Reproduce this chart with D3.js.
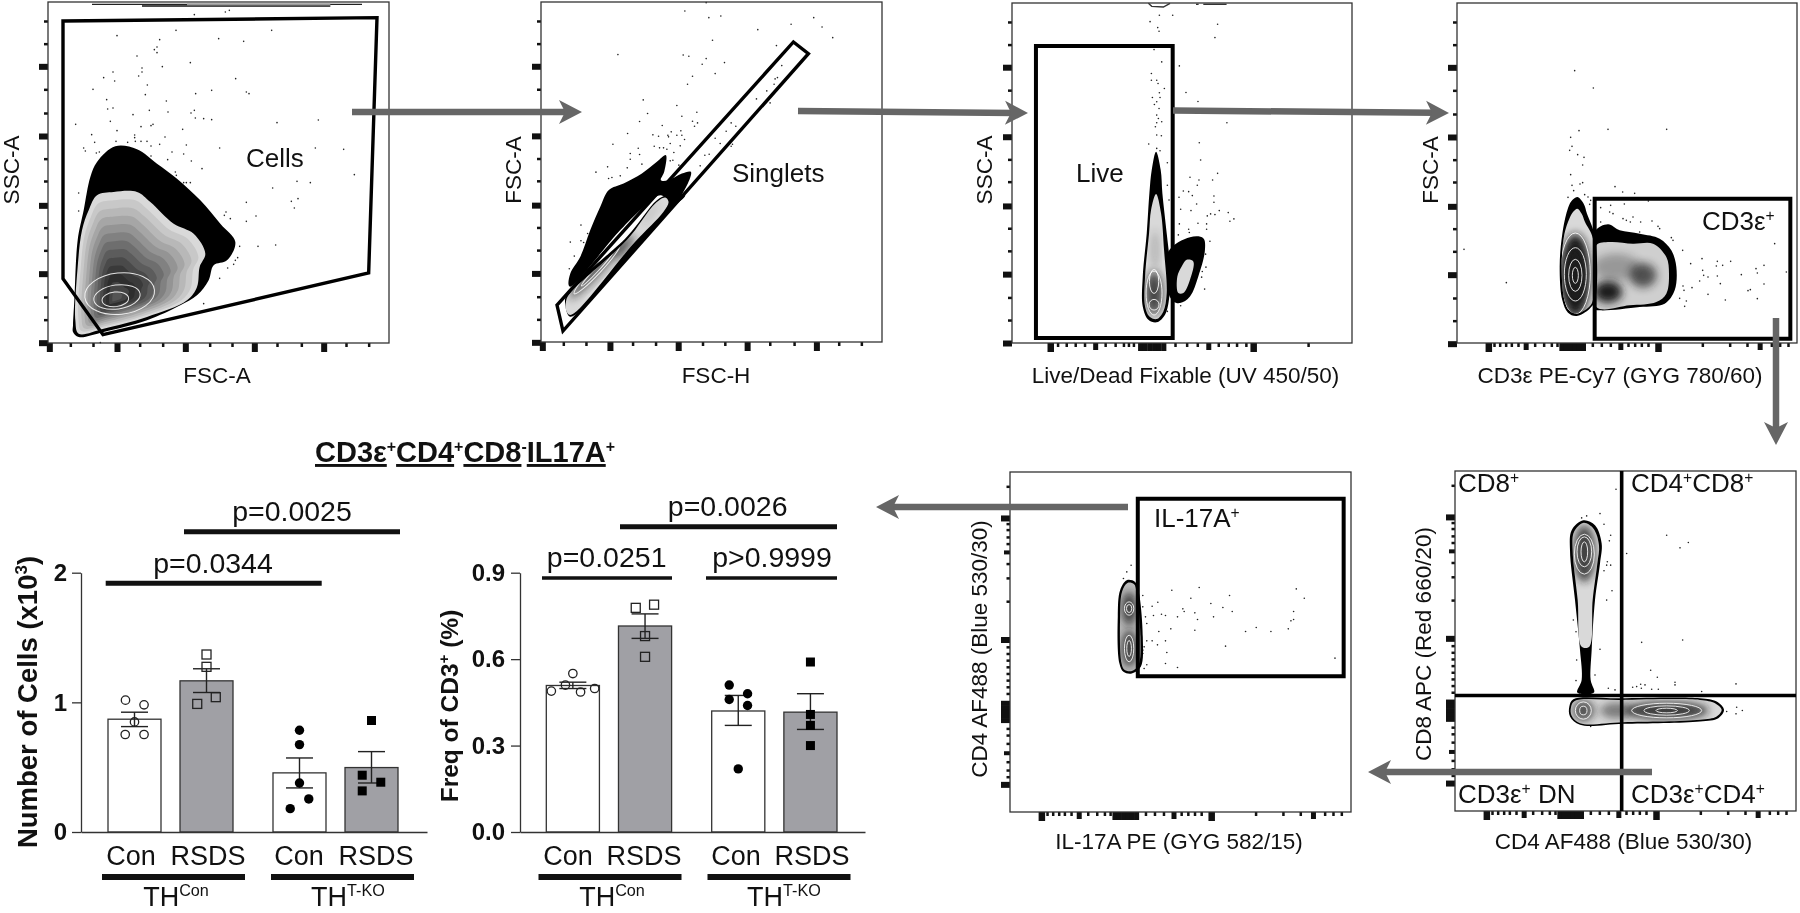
<!DOCTYPE html>
<html>
<head>
<meta charset="utf-8">
<script src="https://cdn.jsdelivr.net/npm/d3@7"></script>
<style>
body { margin: 0; background: #fff; }
svg { display: block; filter: blur(0.45px); }
text { font-family: "Liberation Sans", Arial, sans-serif; fill: #111; }
</style>
</head>
<body>
<div id="chart"></div>
<script>
// bar charts
const groups = ["THCon", "THT-KO"];
const conditions = ["Con", "RSDS"];
const barKeys = ["THCon|Con", "THCon|RSDS", "THT-KO|Con", "THT-KO|RSDS"];

const cellsTicks = [0, 1, 2];
const cellsMeans = [0.87, 1.166, 0.456, 0.497];
const cellsLow = [0.813, 1.076, 0.34, 0.378];
const cellsHigh = [0.924, 1.259, 0.571, 0.62];
const cellsPoints = [
  [1.017, 0.981, 0.849, 0.752, 0.752],
  [1.369, 1.274, 1.04, 0.988],
  [0.785, 0.674, 0.378, 0.255, 0.18],
  [0.86, 0.438, 0.384, 0.317]
];
const cellsJitter = [
  [-0.34, 0.36, 0, -0.35, 0.36],
  [0, 0, 0.35, -0.35],
  [0, 0, 0, 0.35, -0.35],
  [0, -0.35, 0.35, -0.35]
];

const freqTicks = [0, 0.3, 0.6, 0.9];
const freqMeans = [0.5085, 0.715, 0.42, 0.416];
const freqLow = [0.498, 0.672, 0.37, 0.356];
const freqHigh = [0.52, 0.757, 0.474, 0.48];
const freqPoints = [
  [0.55, 0.51, 0.489, 0.486, 0.498],
  [0.778, 0.789, 0.68, 0.608],
  [0.51, 0.48, 0.46, 0.439, 0.219],
  [0.59, 0.408, 0.37, 0.3]
];
const freqJitter = [
  [0, -0.28, -0.81, 0.29, 0.82],
  [-0.35, 0.34, 0, 0],
  [-0.34, 0.35, -0.34, 0.35, 0],
  [0, 0, 0, 0]
];

// cytometry tick lists, in channels from the plot's own origin
const linMajor = [4, 207, 412, 619, 827];
const linMinor = [67, 135, 275, 344, 485, 552, 687, 760, 894, 962];
const linYMajor = [193, 402, 610, 815, 1022];
const linYMinor = [57, 125, 262, 333, 470, 537, 677, 745, 885, 953];
const biexMajor = [94, 603];
const biexMid = [206, 490, 908];
const biexCluster = [313, 326, 339, 352, 365, 378];
const biexMinor = [111, 128, 146, 163, 183, 233, 260, 283, 300, 406, 433, 460, 513, 533, 553, 573, 736, 818, 870, 943, 968, 993];
const liveMajor = [115, 725];
const liveMid = [250, 590];
const liveCluster = [385, 399, 413, 427, 441, 455];
const liveMinor = [137, 163, 190, 218, 280, 310, 335, 350, 365, 490, 525, 557, 620, 650, 675, 703, 890];
const biexYMajor = [138, 503, 938];
const biexYMid = [240, 843];
const biexYCluster = [693, 706, 719, 732, 745];
const biexYMinor = [43, 155, 173, 195, 215, 275, 318, 388, 525, 545, 565, 585, 605, 625, 645, 665, 770, 790, 815, 870, 895, 915];

// cytometry events
const cellsDots = [[582,43],[675,35],[687,30],[527,90],[814,90],[350,106],[655,115],[730,123],[478,118],[470,140],[462,148],[470,157],[410,167],[570,187],[486,199],[425,203],[425,215],[338,215],[415,227],[310,232],[343,242],[706,235],[441,254],[278,267],[634,270],[586,280],[738,275],[746,280],[435,283],[319,298],[498,302],[338,323],[322,326],[447,330],[503,335],[582,330],[572,338],[398,343],[585,353],[610,355],[634,358],[330,363],[226,372],[458,372],[452,376],[422,379],[830,367],[954,359],[547,387],[350,391],[274,403],[403,404],[403,412],[494,410],[347,423],[283,426],[382,426],[405,423],[422,423],[440,423],[478,432],[558,434],[452,437],[945,443],[1030,447],[658,443],[250,443],[255,452],[297,455],[288,458],[515,455],[550,461],[452,467],[573,482],[502,478],[605,505],[1062,523],[525,515],[528,525],[890,543],[930,547],[550,547],[558,547],[570,547],[817,563],[235,578],[893,595],[873,603],[738,606],[882,623],[235,632],[677,635],[672,645],[690,655],[767,647],[738,663],[718,738],[773,738],[826,734],[712,772],[705,780],[700,792],[682,803],[658,834],[610,910],[300,1027]];
const singletDots = [[618,7],[554,32],[626,52],[662,47],[941,52],[966,80],[873,72],[773,88],[998,112],[637,120],[829,136],[353,163],[549,164],[566,168],[618,175],[606,192],[673,187],[845,196],[645,220],[577,228],[832,232],[825,236],[562,252],[822,252],[800,272],[769,296],[429,299],[810,308],[530,316],[590,336],[442,340],[545,348],[418,364],[577,363],[592,368],[583,378],[693,368],[707,378],[486,376],[678,393],[382,400],[458,404],[475,408],[503,405],[505,410],[513,395],[542,392],[530,405],[545,405],[553,418],[645,414],[338,432],[462,438],[478,443],[490,443],[500,447],[540,437],[510,430],[660,430],[697,432],[693,438],[414,444],[390,460],[418,463],[521,457],[614,465],[627,462],[390,477],[510,482],[518,480],[381,503],[425,492],[600,497],[536,495],[322,500],[287,516],[360,527],[325,535],[335,532],[242,675],[262,700],[210,726],[242,722],[250,727],[222,768],[207,806]];
const liveDots = [[598,45],[638,45],[570,64],[773,72],[593,82],[597,93],[765,112],[582,148],[605,185],[658,197],[574,220],[574,240],[590,240],[594,250],[613,265],[598,278],[678,277],[577,292],[600,292],[590,305],[583,313],[714,304],[597,325],[590,345],[595,355],[605,365],[590,368],[586,380],[801,368],[590,405],[604,407],[566,432],[718,428],[590,445],[600,452],[722,480],[622,488],[773,520],[690,532],[717,540],[758,540],[622,556],[712,556],[670,573],[686,575],[697,587],[657,592],[762,588],[627,600],[762,607],[710,612],[662,628],[693,632],[778,632],[805,638],[752,642],[765,644],[742,648],[822,657],[810,664],[714,670],[740,672],[658,672],[686,688],[740,688],[688,698],[655,705],[750,724],[737,763],[738,802],[727,815],[725,832],[734,868],[622,935],[662,918]];
const cd3Dots = [[525,211],[581,263],[538,391],[625,387],[801,387],[513,411],[517,438],[510,450],[534,463],[553,471],[549,494],[513,523],[549,547],[541,551],[517,555],[522,571],[646,559],[669,575],[705,579],[505,591],[555,583],[565,590],[573,600],[570,612],[603,622],[633,615],[746,602],[674,611],[630,635],[640,640],[603,665],[670,655],[680,660],[692,665],[700,650],[757,662],[723,665],[775,678],[780,685],[720,695],[815,712],[820,720],[1125,730],[193,747],[849,750],[907,775],[953,783],[993,783],[873,790],[969,795],[950,797],[1093,795],[1069,805],[909,810],[1073,818],[1025,823],[912,825],[925,830],[953,827],[1160,815],[320,847],[900,842],[962,850],[1093,851],[850,857],[877,862],[1052,868],[1045,871],[925,882],[840,894],[860,902],[977,899],[1073,895],[855,918],[853,870]];
const cd4cd8Dots = [[648,117],[600,190],[560,197],[545,203],[612,222],[632,255],[800,255],[865,277],[840,293],[628,272],[680,310],[622,335],[612,362],[632,345],[620,345],[636,422],[620,450],[520,510],[528,545],[600,598],[725,577],[848,570],[530,630],[585,675],[752,661],[772,682],[528,692],[825,697],[1008,702],[735,705],[722,703],[710,710],[698,712],[724,715],[825,705],[625,715],[645,720],[755,718],[775,718],[905,725],[980,785],[1010,772],[1027,782],[1008,792],[572,830]];
const il17Dots = [[513,345],[500,365],[490,385],[635,420],[717,412],[1008,416],[808,436],[1032,444],[692,444],[548,436],[593,456],[752,460],[576,468],[668,476],[788,472],[672,484],[816,484],[704,488],[1000,484],[548,470],[604,492],[616,496],[580,496],[556,500],[652,500],[760,500],[712,508],[1000,508],[992,512],[560,520],[632,536],[704,540],[856,544],[888,532],[932,544],[984,536],[596,544],[616,572],[560,572],[576,572],[592,584],[552,590],[796,588],[620,607],[1124,624],[616,640],[652,652],[560,644],[552,655],[548,600],[548,610]];

// density contours
const cellsOuter = [[218,975],[222,900],[232,720],[250,630],[270,530],[290,485],[345,438],[410,447],[470,490],[530,535],[600,600],[660,670],[705,725],[680,780],[640,795],[625,840],[590,885],[540,915],[440,960],[310,995],[235,1010],[218,995]];
const cellsInner = [[225,960],[232,800],[245,690],[265,630],[290,585],[340,575],[410,575],[450,605],[520,670],[580,700],[615,760],[598,800],[590,860],[560,900],[440,950],[310,985],[235,1000]];
const cellsPeak = [345, 895];
const cellsShellGreys = ["#c8c8c8", "#b8b8b8", "#a6a6a6", "#949494", "#818181", "#6e6e6e", "#5c5c5c", "#4a4a4a", "#3a3a3a", "#2e2e2e", "#444444", "#555555"];
const cellsRings = [[358,880,105,62,-6],[350,890,70,36,-8],[345,897,40,22,-6]];

const singletOuter = [[205,855],[210,820],[240,770],[270,690],[300,620],[325,570],[370,550],[425,520],[470,485],[497,465],[492,515],[482,540],[505,540],[545,520],[572,515],[558,560],[520,610],[480,585],[420,630],[360,690],[210,860]];
const singletEdge = [[195,915],[200,880],[380,710],[470,600],[500,585],[555,585],[515,625],[400,750],[210,950]];
const singletInner = [[197,905],[205,885],[380,720],[465,610],[495,592],[505,605],[490,635],[400,730],[210,945],[197,930]];
const singletShades = [[370,740,45,13,-48,0.75],[285,812,115,16,-47,0.7],[450,640,40,10,-52,0.12]];
const singletRings = [[290,808,100,13,-47],[290,808,68,6,-47]];

const liveOuter = [[588,455],[602,510],[607,580],[620,700],[630,800],[628,890],[615,945],[590,968],[565,960],[548,920],[548,830],[560,700],[568,580],[575,510]];
const liveInner = [[588,582],[603,640],[612,750],[620,880],[610,935],[590,958],[568,950],[555,920],[555,830],[567,700],[573,630]];
const liveShades = [[582,880,26,65,0,0.8],[585,750,10,60,0,0.25]];
const liveRings = [[582,845,14,36,0],[582,915,15,16,0],[582,880,24,66,0]];
const deadOuter = [[625,755],[690,712],[730,715],[735,750],[715,830],[690,890],[660,910],[640,905],[622,870]];
const deadInner = [[680,780],[700,785],[690,840],[670,880],[655,880],[652,830],[665,800]];

const t1Outer = [[533,590],[552,610],[562,640],[586,710],[586,900],[570,925],[530,947],[505,937],[488,900],[480,800],[488,700],[503,630],[515,603]];
const t1Inner = [[533,625],[546,640],[556,665],[580,715],[580,898],[568,920],[530,940],[508,930],[494,898],[486,800],[494,702],[509,655],[520,635]];
const t1Shades = [[527,825,44,125,0,1],[527,825,30,90,0,0.8]];
const t1Rings = [[527,825,9,24,0],[527,825,20,48,0],[527,822,33,80,0],[527,820,45,122,0]];
const t2Outer = [[585,695],[625,672],[660,690],[720,700],[780,715],[815,750],[830,800],[825,870],[795,910],[720,920],[600,930],[585,925]];
const t2Inner = [[590,735],[630,725],[700,730],[760,730],[800,770],[808,820],[800,880],[770,905],[690,915],[590,920]];
const t2Shades = [[625,875,42,32,0,1],[730,825,40,36,0,0.7],[650,800,70,40,0,0.3]];

const cd8Outer = [[550,210],[585,225],[605,280],[600,340],[585,450],[575,600],[572,690],[582,728],[532,728],[545,690],[540,600],[525,450],[510,300],[515,240]];
const cd8Inner = [[550,218],[580,235],[597,285],[592,340],[578,450],[568,590],[545,590],[533,450],[518,300],[522,245]];
const cd8Shades = [[553,310,32,85,0,0.8]];
const cd8Rings = [[553,305,10,30,0],[553,305,22,45,0],[553,312,30,60,0]];
const cd4Outer = [[520,748],[660,745],[900,745],[950,755],[972,780],[955,805],[900,815],[670,822],[540,825],[510,800],[508,770]];
const cd4Inner = [[524,753],[660,750],[900,750],[945,760],[965,780],[950,800],[900,810],[670,817],[540,820],[515,798],[513,772]];
const cd4Shades = [[800,782,125,26,0,0.85],[550,782,32,32,0,0.7],[650,782,50,24,0,0.5]];
const cd4Rings = [[550,782,11,13,0],[550,782,24,26,0],[800,782,32,7,0],[800,782,68,14,0],[800,782,105,22,0]];

const il17Outer = [[500,390],[525,395],[535,420],[548,560],[542,650],[515,670],[490,665],[478,640],[473,500],[480,420]];
const il17Inner = [[502,398],[522,402],[529,425],[541,560],[535,645],[513,663],[492,658],[484,638],[480,500],[486,424]];
const il17Shades = [[507,475,22,50,0,0.8],[507,595,22,55,0,0.8]];
const il17Rings = [[507,475,8,12,0],[507,475,14,20,0],[507,595,7,24,0],[507,595,14,40,0]];

// gates
const cellsGate = [[188,62],[1130,52],[1105,818],[308,1003],[188,835]];
const singletGate = [[170,915],[880,125],[925,160],[188,993]];
const liveGate = [[227,137],[638,137],[638,1015],[227,1015]];
const cd3Gate = [[585,595],[1172,595],[1172,1015],[585,1015]];
const il17Gate = [[533,145],[1150,145],[1150,678],[533,678]];
const quadV = [[665,62],[665,1084]];
const quadH = [[165,737],[1188,737]];
const cellsTop = [[[275,12],[1085,12]],[[425,17],[990,17]]];
const cellsTopGrey = [[560,12],[990,12]];
const liveTop = [[[565,9],[575,18],[610,20],[630,9]],[[708,12],[716,12]],[[730,12],[800,12]]];

const width = 1800;
const height = 913;
const svg = d3.select("#chart").append("svg").attr("width", width).attr("height", height);
const defs = svg.append("defs");
defs.append("filter").attr("id", "soft").attr("x", "-50%").attr("y", "-50%").attr("width", "200%").attr("height", "200%")
  .append("feGaussianBlur").attr("stdDeviation", 4);

let clipCount = 0;

function richText(parent, x, y, segments, size, opts) {
  opts = opts || {};
  const t = parent.append("text")
    .attr("text-anchor", opts.anchor || "start")
    .attr("font-size", size)
    .attr("font-weight", opts.bold ? "bold" : "normal");
  if (opts.rotate) t.attr("transform", `translate(${x},${y}) rotate(-90)`);
  else t.attr("x", x).attr("y", y);
  const supSize = size * (opts.supScale || 0.6);
  const shift = size * 0.36;
  let raised = false;
  segments.forEach(s => {
    const isSup = s[1] === 1;
    const ts = t.append("tspan").text(s[0]);
    if (isSup) ts.attr("font-size", supSize);
    if (isSup && !raised) ts.attr("dy", -shift);
    if (!isSup && raised) ts.attr("dy", shift);
    if (opts.underline && !isSup) ts.attr("text-decoration", "underline");
    raised = isSup;
  });
  return t;
}

function tickTier(g, scale, values, orient, len, thick) {
  const axis = orient === "bottom" ? d3.axisBottom(scale) : d3.axisLeft(scale);
  const a = g.append("g").call(axis.tickValues(values).tickSize(len).tickFormat(""));
  a.select(".domain").remove();
  a.selectAll("line").attr("stroke", "#111").attr("stroke-width", thick);
}

function drawBlob(g, x, y, b) {
  const line = d3.line().x(d => x(d[0])).y(d => y(d[1])).curve(d3.curveCatmullRomClosed.alpha(0.5));
  g.append("path").attr("d", line(b.outer)).attr("fill", "#000");
  if (!b.inner) return;
  g.append("path").attr("d", line(b.inner)).attr("fill", b.light || "#d9d9d9");
  const id = "clip" + (clipCount++);
  defs.append("clipPath").attr("id", id).append("path").attr("d", line(b.inner));
  const inside = g.append("g").attr("clip-path", `url(#${id})`);
  if (b.shells) {
    b.shells.forEach((grey, i) => {
      const t = (i + 1) / (b.shells.length + 1);
      const shrunk = b.inner.map(p => [p[0] + (b.peak[0] - p[0]) * t, p[1] + (b.peak[1] - p[1]) * t]);
      inside.append("path").attr("d", line(shrunk)).attr("fill", grey);
    });
  }
  const ell = (sel, e) => sel
    .attr("rx", Math.abs(x(e[0] + e[2]) - x(e[0])))
    .attr("ry", Math.abs(y(e[1] + e[3]) - y(e[1])))
    .attr("transform", `translate(${x(e[0])},${y(e[1])}) rotate(${e[4]})`);
  (b.shades || []).forEach(e => {
    inside.append("ellipse").call(ell, e).attr("fill", "#1c1c1c").attr("opacity", e[5]).attr("filter", "url(#soft)");
  });
  (b.rings || []).forEach(e => {
    inside.append("ellipse").call(ell, e).attr("fill", "none").attr("stroke", "#fff").attr("stroke-width", 1).attr("opacity", 0.85);
  });
}

function drawPanel(p) {
  const g = svg.append("g");
  const x = d3.scaleLinear().domain(p.dx).range([p.left, p.right]);
  const y = d3.scaleLinear().domain(p.dy).range([p.top, p.bottom]);
  const tx = x.copy().domain([0, p.dx[1] - p.dx[0]]);
  const ty = y.copy().domain([0, p.dy[1] - p.dy[0]]);

  const bottomTicks = g.append("g").attr("transform", `translate(0,${p.bottom})`);
  const leftTicks = g.append("g").attr("transform", `translate(${p.left},0)`);
  p.xTiers.forEach(t => tickTier(bottomTicks, tx, t[0], "bottom", t[1], t[2]));
  p.yTiers.forEach(t => tickTier(leftTicks, ty, t[0], "left", t[1], t[2]));

  g.selectAll(".event").data(p.dots).enter().append("circle")
    .attr("cx", d => x(d[0])).attr("cy", d => y(d[1])).attr("r", 0.8).attr("fill", "#222");

  (p.blobs || []).forEach(b => drawBlob(g, x, y, b));

  const plain = d3.line().x(d => x(d[0])).y(d => y(d[1]));
  (p.topBits || []).forEach(b => {
    g.append("path").attr("d", plain(b.points)).attr("fill", "none").attr("stroke", b.color).attr("stroke-width", b.width);
  });

  g.append("rect").attr("x", p.left).attr("y", p.top).attr("width", p.right - p.left).attr("height", p.bottom - p.top)
    .attr("fill", "none").attr("stroke", "#333").attr("stroke-width", 1.3);

  (p.gates || []).forEach(gate => {
    g.append("path").attr("d", plain.curve(d3.curveLinearClosed)(gate)).attr("fill", "none").attr("stroke", "#000").attr("stroke-width", p.gateWidth).attr("stroke-linejoin", "miter");
  });
  plain.curve(d3.curveLinear);
  (p.lines || []).forEach(l => {
    g.append("path").attr("d", plain(l[0])).attr("fill", "none").attr("stroke", "#000").attr("stroke-width", l[1]);
  });

  const label = p.xLabel;
  richText(g, label[1], label[2], [[label[0], 0]], p.xLabelSize || 22.5, { anchor: "middle" });
  const ylab = p.yLabel;
  richText(g, ylab[1], ylab[2], [[ylab[0], 0]], p.yLabelSize || 22.5, { anchor: "middle", rotate: true });
  (p.notes || []).forEach(n => richText(g, n[1], n[2], n[0], 26));
}

const linXTiers = [[linMajor, 9, 6], [linMinor, 4, 2.5]];
const linYTiers = [[linYMajor, 9, 6], [linYMinor, 4, 2.5]];
const biexXTiers = [[biexMajor, 9, 6.5], [biexMid, 7, 5], [biexCluster, 8, 5], [biexMinor, 4, 2.5]];
const liveXTiers = [[liveMajor, 9, 6.5], [liveMid, 7, 5], [liveCluster, 8, 5], [liveMinor, 4, 2.5]];
const biexYTiers = [[biexYMajor, 9, 6], [biexYMid, 6, 4], [biexYCluster, 9, 5], [biexYMinor, 3.5, 2.5]];

const panels = [
  { left: 48, right: 389, top: 2, bottom: 343, dx: [143, 1166], dy: [5, 1028], dots: cellsDots, gateWidth: 3.4,
    xTiers: linXTiers, yTiers: linYTiers, gates: [cellsGate],
    blobs: [{ outer: cellsOuter, inner: cellsInner, peak: cellsPeak, shells: cellsShellGreys, rings: cellsRings }],
    topBits: [{ points: cellsTop[0], color: "#222", width: 1.3 }, { points: cellsTop[1], color: "#111", width: 1.5 }, { points: cellsTopGrey, color: "#999", width: 1.6 }],
    xLabel: ["FSC-A", 217, 383], yLabel: ["SSC-A", 19, 170], notes: [[[["Cells", 0]], 246, 167]] },
  { left: 541, right: 882, top: 2, bottom: 342, dx: [122, 1146], dy: [5, 1026], dots: singletDots, gateWidth: 3.4,
    xTiers: linXTiers, yTiers: linYTiers, gates: [singletGate],
    blobs: [{ outer: singletOuter }, { outer: singletEdge, inner: singletInner, shades: singletShades, rings: singletRings }],
    xLabel: ["FSC-H", 716, 383], yLabel: ["FSC-A", 521, 170], notes: [[[["Singlets", 0]], 732, 182]] },
  { left: 1012, right: 1352, top: 3, bottom: 343, dx: [155, 1177], dy: [8, 1030], dots: liveDots, gateWidth: 4,
    xTiers: liveXTiers, yTiers: linYTiers, gates: [liveGate],
    blobs: [{ outer: deadOuter, inner: deadInner }, { outer: liveOuter, inner: liveInner, shades: liveShades, rings: liveRings }],
    topBits: liveTop.map(b => ({ points: b, color: "#333", width: 1.4 })),
    xLabel: ["Live/Dead Fixable (UV 450/50)", 1185.5, 383], yLabel: ["SSC-A", 992, 170], notes: [[[["Live", 0]], 1076, 182]] },
  { left: 1457, right: 1797, top: 3, bottom: 343, dx: [172, 1192], dy: [8, 1028], dots: cd3Dots, gateWidth: 4,
    xTiers: biexXTiers, yTiers: linYTiers, gates: [cd3Gate],
    blobs: [{ outer: t2Outer, inner: t2Inner, light: "#cfcfcf", shades: t2Shades }, { outer: t1Outer, inner: t1Inner, shades: t1Shades, rings: t1Rings }],
    xLabel: ["CD3ε PE-Cy7 (GYG 780/60)", 1620, 383], yLabel: ["FSC-A", 1438, 170], notes: [[[["CD3ε", 0], ["+", 1]], 1702, 230]] },
  { left: 1455, right: 1796, top: 471, bottom: 811, dx: [165, 1188], dy: [62, 1084], dots: cd4cd8Dots, gateWidth: 3.5,
    xTiers: biexXTiers, yTiers: biexYTiers,
    blobs: [{ outer: cd8Outer, inner: cd8Inner, shades: cd8Shades, rings: cd8Rings }, { outer: cd4Outer, inner: cd4Inner, shades: cd4Shades, rings: cd4Rings }],
    lines: [[quadV, 3.6], [quadH, 3.4]],
    xLabel: ["CD4 AF488 (Blue 530/30)", 1623.5, 849], yLabel: ["CD8 APC (Red 660/20)", 1431, 644],
    notes: [[[["CD8", 0], ["+", 1]], 1458, 492], [[["CD4", 0], ["+", 1], ["CD8", 0], ["+", 1]], 1631, 492],
      [[["CD3ε", 0], ["+", 1], [" DN", 0]], 1458, 803], [[["CD3ε", 0], ["+", 1], ["CD4", 0], ["+", 1]], 1631, 803]] },
  { left: 1010, right: 1351, top: 472, bottom: 812, dx: [150, 1172], dy: [65, 1086], dots: il17Dots, gateWidth: 4,
    xTiers: biexXTiers, yTiers: biexYTiers, gates: [il17Gate],
    blobs: [{ outer: il17Outer, inner: il17Inner, light: "#bdbdbd", shades: il17Shades, rings: il17Rings }],
    xLabel: ["IL-17A PE (GYG 582/15)", 1179, 849], yLabel: ["CD4 AF488 (Blue 530/30)", 987, 649],
    notes: [[[["IL-17A", 0], ["+", 1]], 1154, 527]] }
];
panels.forEach(drawPanel);

// grey arrows between the gating steps
function drawArrow(a) {
  const g = svg.append("g").attr("transform", `translate(${a.from[0]},${a.from[1]}) rotate(${a.angle})`);
  g.append("line").attr("x1", 0).attr("x2", a.len - 14).attr("y1", 0).attr("y2", 0)
    .attr("stroke", "#666").attr("stroke-width", 6.5);
  g.append("path").attr("fill", "#666")
    .attr("d", d3.line()([[a.len, 0], [a.len - 23, -12], [a.len - 17, 0], [a.len - 23, 12]]) + "Z");
}
[
  { from: [352, 112], angle: 0, len: 230 },
  { from: [798, 111], angle: 0.5, len: 230 },
  { from: [1173, 110.5], angle: 0.5, len: 276 },
  { from: [1776, 318], angle: 90, len: 127 },
  { from: [1652, 772], angle: 180, len: 284 },
  { from: [1128, 507], angle: 180, len: 252 }
].forEach(drawArrow);

richText(svg, 315, 462, [["CD3ε", 0], ["+", 1], ["CD4", 0], ["+", 1], ["CD8", 0], ["-", 1], ["IL17A", 0], ["+", 1]], 29, { bold: true, underline: true, supScale: 0.55 });

// bar charts
function drawBars(c) {
  const g = svg.append("g");
  const y = d3.scaleLinear().domain(c.domain).range([c.y0, c.yTop]);
  const x0 = d3.scaleBand().domain(groups).range(c.barRange).paddingInner(0.2424);
  const x1 = d3.scaleBand().domain(conditions).range([0, x0.bandwidth()]).paddingInner(0.264);
  const bars = barKeys.map((k, i) => {
    const [grp, cond] = k.split("|");
    const left = x0(grp) + x1(cond);
    return { grp, cond, i, left, mid: left + x1.bandwidth() / 2, mean: c.means[i], lo: c.low[i], hi: c.high[i], points: c.points[i], jitter: c.jitter[i] };
  });
  const jit = d3.scaleLinear().domain([-1, 1]).range([-x1.bandwidth() / 2, x1.bandwidth() / 2]);

  g.selectAll(".bar").data(bars).enter().append("rect")
    .attr("x", d => d.left).attr("width", x1.bandwidth())
    .attr("y", d => y(d.mean)).attr("height", d => c.y0 - y(d.mean))
    .attr("fill", d => d.cond === "Con" ? "#fff" : "#a0a0a5")
    .attr("stroke", "#333").attr("stroke-width", 1.3);

  const capHalf = 13.5;
  bars.forEach(d => {
    const stroke = "#222";
    g.append("line").attr("x1", d.mid).attr("x2", d.mid).attr("y1", y(d.lo)).attr("y2", y(d.hi)).attr("stroke", stroke).attr("stroke-width", 1.4);
    [d.lo, d.hi].forEach(v => g.append("line").attr("x1", d.mid - capHalf).attr("x2", d.mid + capHalf).attr("y1", y(v)).attr("y2", y(v)).attr("stroke", stroke).attr("stroke-width", 1.4));
    const filled = d.grp === "THT-KO";
    const isSquare = d.cond === "RSDS";
    d.points.forEach((v, j) => {
      const px = d.mid + jit(d.jitter[j]);
      const py = y(v);
      if (isSquare) {
        g.append("rect").attr("x", px - 4.5).attr("y", py - 4.5).attr("width", 9).attr("height", 9)
          .attr("fill", filled ? "#000" : "none").attr("stroke", filled ? "none" : "#222").attr("stroke-width", 1.3);
      } else {
        g.append("circle").attr("cx", px).attr("cy", py).attr("r", filled ? 4.7 : 4.2)
          .attr("fill", filled ? "#000" : "none").attr("stroke", filled ? "none" : "#222").attr("stroke-width", 1.3);
      }
    });
  });

  const yAxis = g.append("g").attr("transform", `translate(${c.axisX},0)`)
    .call(d3.axisLeft(y).tickValues(c.ticks).tickSize(9).tickPadding(c.tickPad).tickFormat(c.format).tickSizeOuter(0));
  yAxis.selectAll("line").attr("stroke", "#333").attr("stroke-width", 1.3);
  yAxis.select(".domain").attr("stroke", "#333").attr("stroke-width", 1.3);
  yAxis.selectAll("text").attr("font-size", 24).attr("font-weight", "bold").attr("font-family", '"Liberation Sans", Arial, sans-serif').attr("fill", "#111");

  const xLine = d3.scaleLinear().domain([0, 1]).range([c.axisX, c.axisEnd]);
  const xAxis = g.append("g").attr("transform", `translate(0,${c.y0})`)
    .call(d3.axisBottom(xLine).tickValues([]).tickSizeOuter(0));
  xAxis.select(".domain").attr("stroke", "#333").attr("stroke-width", 1.3);

  bars.forEach(d => {
    richText(g, c.labelX[d.i], 865, [[d.cond, 0]], 27, { anchor: "middle" });
  });
  groups.forEach((grp, i) => {
    g.append("line").attr("x1", c.groupX[i] - 71.5).attr("x2", c.groupX[i] + 71.5).attr("y1", 877).attr("y2", 877).attr("stroke", "#111").attr("stroke-width", 6);
    richText(g, c.thX[i], 906, [["TH", 0], [grp.slice(2), 1]], 27, { anchor: "middle" });
  });

  c.sig.forEach(s => {
    g.append("line").attr("x1", s.x1).attr("x2", s.x2).attr("y1", s.y).attr("y2", s.y).attr("stroke", "#111").attr("stroke-width", s.w);
    richText(g, s.tx, s.ty, [[s.label, 0]], 28.5, { anchor: "middle" });
  });

  richText(g, c.titleX, c.titleY, c.title, c.titleSize, { anchor: "middle", bold: true, rotate: true, supScale: 0.62 });
}

drawBars({
  domain: [0, 2], ticks: cellsTicks, format: d3.format("d"), y0: 832, yTop: 572.7,
  barRange: [108, 398], axisX: 81, axisEnd: 427, tickPad: 5,
  means: cellsMeans, low: cellsLow, high: cellsHigh, points: cellsPoints, jitter: cellsJitter,
  labelX: [131, 208, 299, 376], groupX: [173.5, 342.5], thX: [176, 348],
  title: [["Number of Cells (x10", 0], ["3", 1], [")", 0]], titleX: 37, titleY: 702, titleSize: 27.5,
  sig: [
    { label: "p=0.0344", x1: 105.7, x2: 321.7, y: 583.3, w: 5, tx: 213, ty: 572.7 },
    { label: "p=0.0025", x1: 184, x2: 400, y: 531.7, w: 5, tx: 292, ty: 520.7 }
  ]
});
drawBars({
  domain: [0, 0.9], ticks: freqTicks, format: d3.format(".1f"), y0: 832, yTop: 572.7,
  barRange: [546.3, 837], axisX: 520, axisEnd: 865, tickPad: 6,
  means: freqMeans, low: freqLow, high: freqHigh, points: freqPoints, jitter: freqJitter,
  labelX: [568, 644, 736, 812], groupX: [610, 779], thX: [612, 784],
  title: [["Freq of CD3", 0], ["+", 1], [" (%)", 0]], titleX: 458, titleY: 706, titleSize: 24.5,
  sig: [
    { label: "p=0.0251", x1: 542, x2: 672, y: 578, w: 3.5, tx: 606.7, ty: 567.3 },
    { label: "p>0.9999", x1: 706, x2: 837, y: 578, w: 3.5, tx: 772, ty: 567.3 },
    { label: "p=0.0026", x1: 620, x2: 837, y: 526.7, w: 5, tx: 727.7, ty: 516 }
  ]
});
</script>
</body>
</html>
